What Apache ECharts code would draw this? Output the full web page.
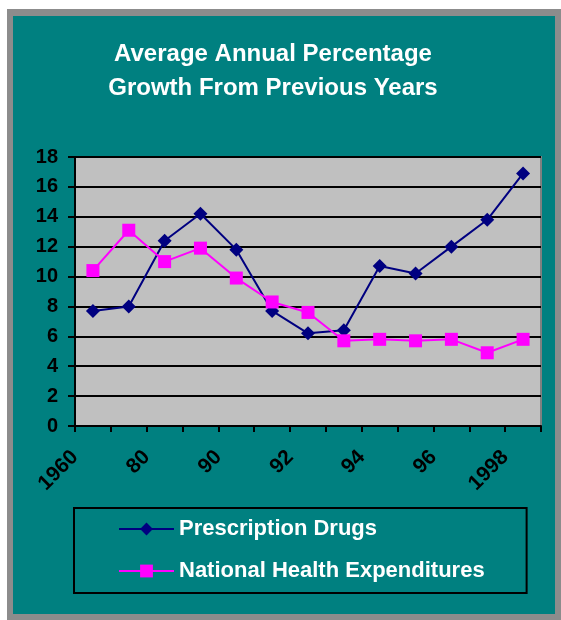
<!DOCTYPE html>
<html>
<head>
<meta charset="utf-8">
<script src="https://cdn.jsdelivr.net/npm/echarts@6/dist/echarts.min.js"></script>
<style>
  html, body { margin: 0; padding: 0; background: #fff; }
  #chart { width: 561px; height: 620px; }
</style>
</head>
<body>
<div id="chart"></div>
<script>
// 13 periods plotted, labels sit on every second boundary (as in the original)
var periods = ['1', '2', '3', '4', '5', '6', '7', '8', '9', '10', '11', '12', '13'];
var tickLabels = ['1960', '80', '90', '92', '94', '96', '1998'];
var drugs = [7.7, 8.0, 12.4, 14.2, 11.8, 7.7, 6.2, 6.4, 10.7, 10.2, 12.0, 13.8, 16.9];
var nhe = [10.4, 13.1, 11.0, 11.9, 9.9, 8.3, 7.6, 5.7, 5.8, 5.7, 5.8, 4.9, 5.8];

// boundary slots: one more than periods
var boundaries = [];
for (var i = 0; i <= periods.length; i++) {
    boundaries.push(i % 2 === 0 ? (tickLabels[i / 2] || '') : '');
}

var font = "'Liberation Sans', Arial, sans-serif";
var myChart = echarts.init(document.getElementById('chart'));
myChart.setOption({
    backgroundColor: '#ffffff',
    animation: false,
    graphic: [
        { type: 'rect', z: -10, shape: { x: 7, y: 9, width: 554, height: 611 }, style: { fill: '#8c8c8c' } },
        { type: 'rect', z: -9, shape: { x: 13, y: 16, width: 542, height: 598 }, style: { fill: '#008080' } }
    ],
    title: {
        text: 'Average Annual Percentage\nGrowth From Previous Years',
        left: 268,
        textAlign: 'center',
        top: 32,
        textStyle: {
            color: '#ffffff',
            fontFamily: font,
            fontWeight: 'bold',
            fontSize: 24,
            lineHeight: 34
        }
    },
    legend: {
        orient: 'vertical',
        left: 74,
        top: 508,
        padding: [10, 42, 11, 44],
        itemGap: 20,
        itemWidth: 55,
        itemHeight: 16,
        borderColor: '#000000',
        borderWidth: 2,
        textStyle: {
            color: '#ffffff',
            fontFamily: font,
            fontWeight: 'bold',
            fontSize: 22,
            lineHeight: 22
        },
        data: ['Prescription Drugs', 'National Health Expenditures']
    },
    grid: {
        left: 75,
        right: 20,
        top: 157,
        bottom: 194,
        show: true,
        backgroundColor: '#c0c0c0',
        borderColor: '#808080',
        borderWidth: 2
    },
    xAxis: [
        {
            type: 'category',
            data: periods,
            boundaryGap: true,
            axisLine: { lineStyle: { color: '#000', width: 2 } },
            axisTick: { show: true, interval: 0, length: 6, lineStyle: { color: '#000', width: 2 } },
            axisLabel: { show: false },
            splitLine: { show: false }
        },
        {
            type: 'category',
            data: boundaries,
            boundaryGap: false,
            position: 'bottom',
            axisLine: { show: false },
            axisTick: { show: false },
            splitLine: { show: false },
            axisLabel: {
                interval: 0,
                rotate: 45,
                margin: 28,
                color: '#000',
                fontFamily: font,
                fontWeight: 'bold',
                fontSize: 21
            }
        }
    ],
    yAxis: {
        type: 'value',
        min: 0,
        max: 18,
        interval: 2,
        axisLine: { show: true, lineStyle: { color: '#000', width: 2 } },
        axisTick: { show: true, length: 7, lineStyle: { color: '#000', width: 2 } },
        axisLabel: {
            margin: 17,
            color: '#000',
            fontFamily: font,
            fontWeight: 'bold',
            fontSize: 20
        },
        splitLine: { lineStyle: { color: '#000', width: 2 } }
    },
    series: [
        {
            name: 'Prescription Drugs',
            type: 'line',
            xAxisIndex: 0,
            data: drugs,
            symbol: 'diamond',
            symbolSize: 14,
            color: '#000080',
            lineStyle: { color: '#000080', width: 2 },
            itemStyle: { color: '#000080' }
        },
        {
            name: 'National Health Expenditures',
            type: 'line',
            xAxisIndex: 0,
            data: nhe,
            symbol: 'rect',
            symbolSize: 13,
            color: '#ff00ff',
            lineStyle: { color: '#ff00ff', width: 2 },
            itemStyle: { color: '#ff00ff' }
        }
    ]
});
</script>
</body>
</html>
